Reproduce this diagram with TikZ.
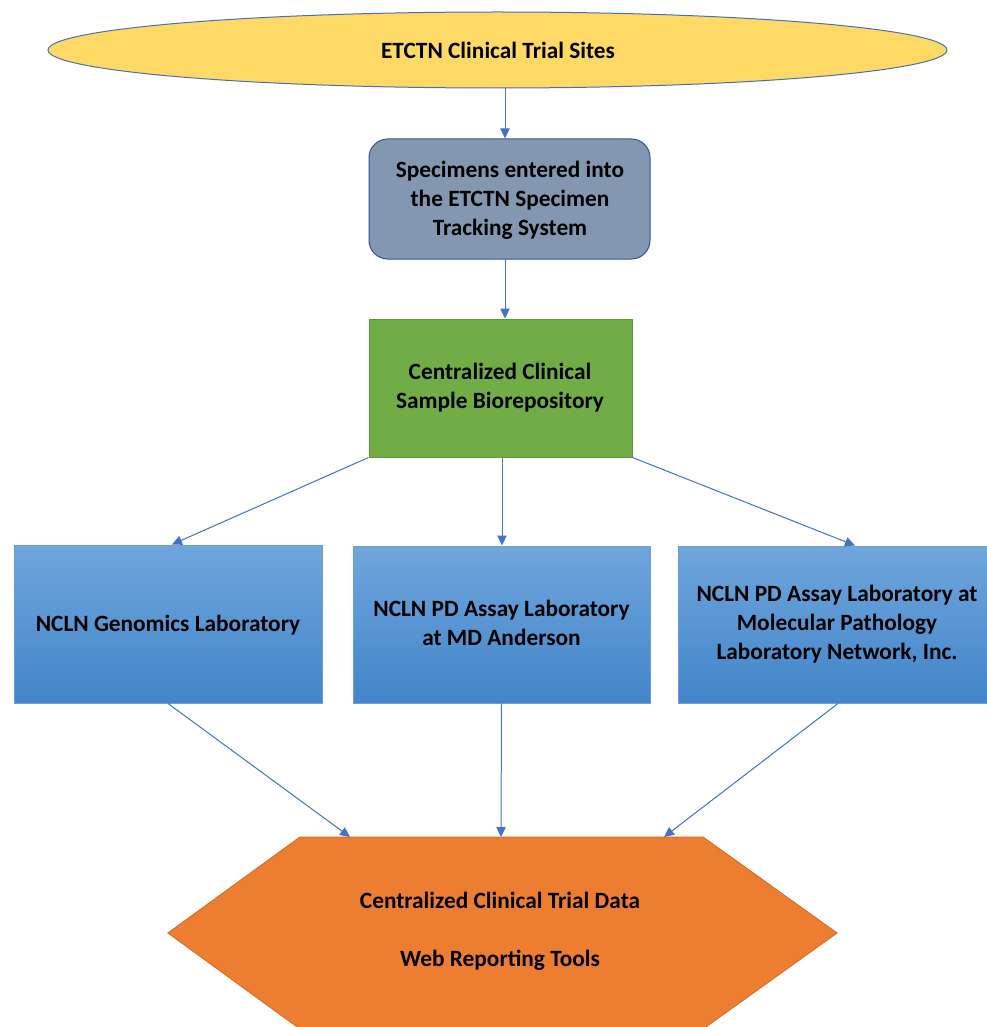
\documentclass[tikz,border=0pt]{standalone}
\usepackage{fontspec}
\setmainfont{Carlito}
\usetikzlibrary{arrows.meta,shapes.geometric,calc}
\definecolor{arrowblue}{HTML}{4472C4}
\definecolor{ellfill}{HTML}{FFD966}
\definecolor{ellline}{HTML}{4A6FB5}
\definecolor{specfill}{HTML}{8497B0}
\definecolor{specline}{HTML}{2F5597}
\definecolor{greenfill}{HTML}{70AD47}
\definecolor{greenline}{HTML}{5E9A3A}
\definecolor{bluetop}{HTML}{6FA6DC}
\definecolor{bluebot}{HTML}{4285C9}
\definecolor{blueline}{HTML}{6A9FD8}
\definecolor{orangefill}{HTML}{ED7D31}
\definecolor{orangeline}{HTML}{D9702A}
\begin{document}
\begin{tikzpicture}[x=0.75pt,y=-0.75pt,
  lbl/.style={font=\bfseries\fontsize{17.5pt}{21.75pt}\selectfont, align=center, text=black, inner sep=0pt},
  arr/.style={draw=arrowblue, line width=0.75pt, -{Triangle[length=7.5pt,width=7pt]}},
  labbox/.style={rectangle, draw=blueline, line width=0.75pt, top color=bluetop, bottom color=bluebot, inner sep=0pt}]
\useasboundingbox (0,0) rectangle (987,1027);
\fill[white] (0,0) rectangle (987,1027);

% top ellipse
\node[ellipse, draw=ellline, line width=0.75pt, fill=ellfill, minimum width=674.25pt, minimum height=57pt, inner sep=0pt] (sites) at (497.5,50) {};
\node[lbl] (sitesT) at (498,50) {ETCTN Clinical Trial Sites};

% specimen tracking
\node[rectangle, rounded corners=14pt, draw=specline, line width=0.75pt, fill=specfill, minimum width=210.75pt, minimum height=90pt, inner sep=0pt] (spec) at (509.5,199) {};
\node[lbl] (specT) at (510,200) {Specimens entered into\\the ETCTN Specimen\\Tracking System};

% biorepository
\node[rectangle, draw=greenline, line width=0.75pt, fill=greenfill, minimum width=197.25pt, minimum height=103.5pt, inner sep=0pt] (bio) at (500.5,388) {};
\node[lbl] (bioT) at (500,388) {Centralized Clinical\\Sample Biorepository};

% labs
\node[labbox, minimum width=231pt, minimum height=118.5pt] (lab1) at (168,624) {};
\node[lbl] (lab1T) at (168,625) {NCLN Genomics Laboratory};
\node[labbox, minimum width=222.75pt, minimum height=117.75pt] (lab2) at (501.5,624.5) {};
\node[lbl] (lab2T) at (501.5,622.5) {NCLN PD Assay Laboratory\\at MD Anderson};
\node[labbox, minimum width=234pt, minimum height=117.75pt] (lab3) at (834,624.5) {};
\node[lbl] (lab3T) at (837,624) {NCLN PD Assay Laboratory at\\Molecular Pathology\\Laboratory Network, Inc.};

% data hexagon
\filldraw[fill=orangefill, draw=orangeline, line width=0.75pt]
  (300,837) -- (703,837) -- (837,933) -- (703,1029) -- (300,1029) -- (168,933) -- cycle;
\node[lbl] (dataT) at (500,931.5) {Centralized Clinical Trial Data\\[21.75pt]Web Reporting Tools};
\coordinate (dataL) at (350,837);
\coordinate (dataM) at (501,837);
\coordinate (dataR) at (664,837);

% connectors
\draw[arr] (sites.south -| 505,0) -- (spec.north -| 505,0);
\draw[arr] (spec.south -| 505,0) -- (bio.north -| 505,0);
\draw[arr] (bio.south west) -- ($(lab1.north)+(4,0)$);
\draw[arr] (bio.south -| 502,0) -- (lab2.north -| 502,0);
\draw[arr] (bio.south east) -- ($(lab3.north)+(21,0)$);
\draw[arr] (lab1.south) -- (dataL);
\draw[arr] (lab2.south) -- (dataM);
\draw[arr] ($(lab3.south)+(4,0)$) -- (dataR);
\end{tikzpicture}
\end{document}
